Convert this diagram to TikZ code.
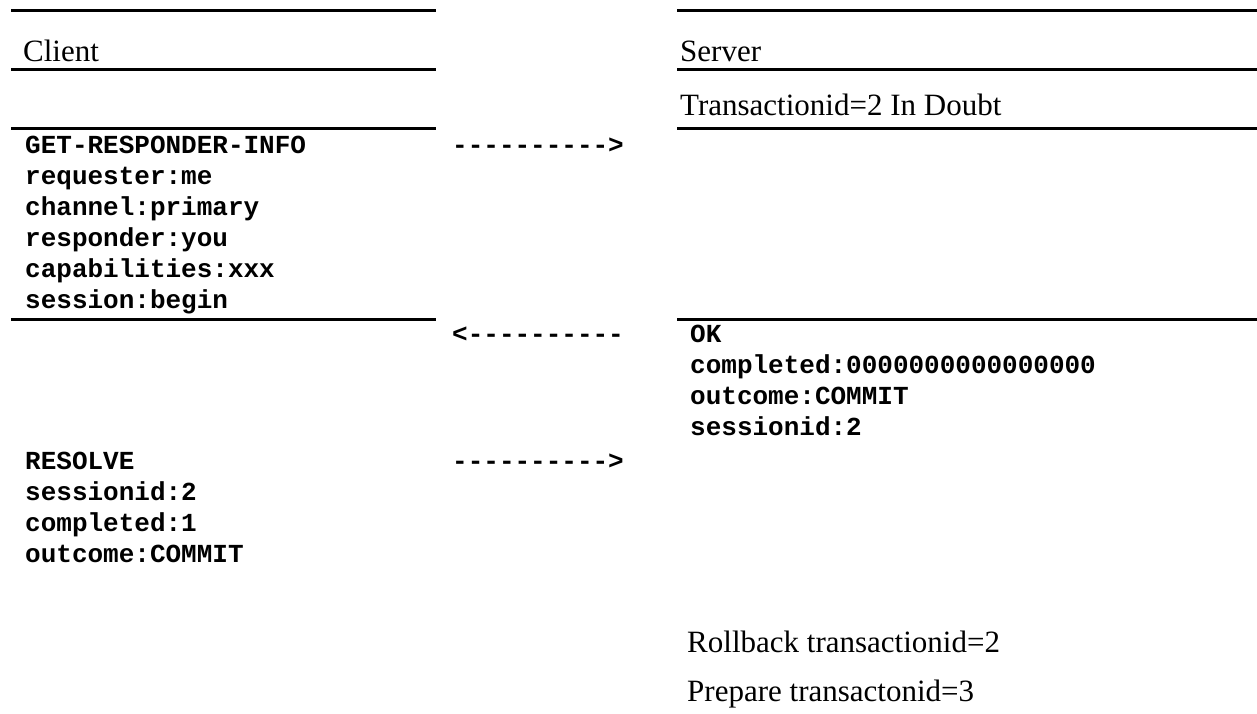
\documentclass[tikz,border=0pt]{standalone}
\usepackage{fontspec}
\setmainfont{Liberation Serif}
\setmonofont{Liberation Mono}

\begin{document}
\begin{tikzpicture}[x=1pt,y=-1pt,
    rule/.style={line width=3pt},
    head/.style={anchor=base west,inner sep=0pt,font=\fontsize{31}{35}\selectfont},
    msg/.style={anchor=base west,inner sep=0pt,align=left,font=\fontsize{26}{31}\selectfont\ttfamily\bfseries}]
    \useasboundingbox (0,0) rectangle (1257,713);
    % rules of the two columns
    \foreach \y in {10,69,128,319} {
        \draw[rule] (11,\y) -- (436,\y);
        \draw[rule] (677,\y) -- (1257,\y);
    }
    \node[head] (client) at (23,61) {Client};
    \node[head] (server) at (680,61) {Server};
    \node[head] (doubt) at (680,115) {Transactionid=2 In Doubt};
    % messages (base = last line)
    \node[msg] (getinfo) at (25,308) {GET-RESPONDER-INFO\\requester:me\\channel:primary\\responder:you\\capabilities:xxx\\session:begin};
    \node[msg] (send1) at (452,153) {---------->};
    \node[msg] (back1) at (452,342) {<----------};
    \node[msg] (okreply) at (690,435) {OK\\completed:0000000000000000\\outcome:COMMIT\\sessionid:2};
    \node[msg] (resolve) at (25,562) {RESOLVE\\sessionid:2\\completed:1\\outcome:COMMIT};
    \node[msg] (send2) at (452,469) {---------->};
    \node[head] (rollback) at (687,652) {Rollback transactionid=2};
    \node[head] (prepare) at (687,701) {Prepare transactonid=3};
\end{tikzpicture}
\end{document}
